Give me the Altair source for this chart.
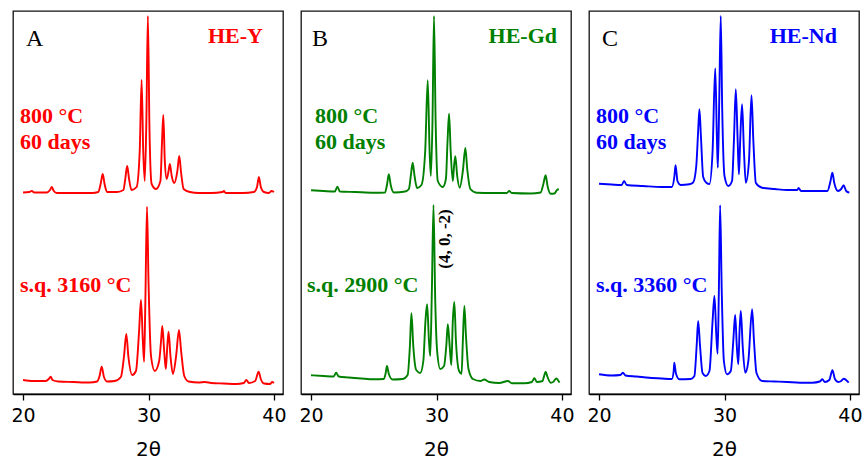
import altair as alt
import pandas as pd

# ---------------- data (2θ, intensity a.u. incl. vertical offset) ----------------
a_top_x = [20.0, 20.5, 20.7, 20.9, 21.9, 22.15, 22.3, 22.45, 22.7, 24.0, 25.5, 26.0, 26.2, 26.35, 26.5, 26.7,
           27.5, 28.0, 28.15, 28.3, 28.45, 28.65, 29.05, 29.3, 29.45, 29.58, 29.7, 29.83, 29.95, 30.08, 30.25,
           30.6, 30.95, 31.08, 31.18, 31.3, 31.45, 31.6, 31.7, 31.85, 32.05, 32.3, 32.45, 32.6, 32.8, 33.3,
           34.0, 35.0, 35.9, 36.0, 36.15, 37.5, 38.4, 38.65, 38.8, 38.95, 39.2, 39.6, 39.8, 40.0]
a_top_y = [201.5, 202, 203, 201.5, 201.5, 204, 207, 203, 201, 201, 201, 202, 211, 220, 210, 202,
           202, 204, 215, 228, 215, 204, 207, 243, 314, 243, 213, 273, 378, 263, 210,
           205, 213, 253, 279, 233, 215, 223, 230, 218, 211, 223, 238, 221, 205, 202,
           201, 201, 202, 203, 201, 201, 202, 207, 217, 207, 202, 201, 203, 202]

a_bot_x = [20.0, 20.8, 21.8, 22.05, 22.2, 22.35, 22.8, 24.0, 25.3, 25.9, 26.1, 26.27, 26.45, 26.7, 27.3,
           27.8, 28.05, 28.23, 28.4, 28.7, 29.0, 29.25, 29.4, 29.55, 29.65, 29.75, 29.88, 30.0, 30.2, 30.5,
           30.85, 31.0, 31.1, 31.25, 31.38, 31.5, 31.6, 31.75, 31.95, 32.2, 32.43, 32.6, 32.85, 33.2, 34.0,
           34.5, 35.0, 36.0, 37.0, 37.6, 37.8, 38.0, 38.5, 38.78, 38.95, 39.2, 39.7, 39.85, 40.0]
a_bot_y = [14, 13, 13, 15, 17.3, 14, 12.5, 12, 11.5, 12.5, 18, 27.3, 17, 12.5, 13,
           17, 38, 60, 37, 19, 23, 63, 94, 53, 32.3, 93, 187.3, 113, 38, 23,
           33, 53, 68, 43, 25, 48, 62.3, 38, 20, 38, 64, 43, 18, 12.5, 11.5,
           12, 11, 10.5, 10, 11, 14, 11, 13, 22.3, 15, 10.5, 10, 12, 11]

b_top_x = [20.0, 21.0, 21.9, 22.1, 22.3, 23.5, 25.0, 25.9, 26.05, 26.2, 26.35, 26.6, 27.5, 27.8, 27.95,
           28.1, 28.25, 28.45, 28.8, 29.1, 29.3, 29.45, 29.55, 29.68, 29.8, 29.93, 30.1, 30.5, 30.75, 30.88,
           31.0, 31.13, 31.3, 31.4, 31.5, 31.65, 31.85, 32.1, 32.3, 32.45, 32.7, 33.2, 34.5, 35.6, 35.8,
           36.0, 37.5, 38.3, 38.5, 38.7, 38.85, 39.1, 39.4, 39.6, 39.75]
b_top_y = [203.7, 203, 202.5, 207.3, 202.5, 202, 201.3, 201.5, 209, 219.7, 209, 201.5, 202.5, 205, 218,
           231.3, 218, 206, 209, 243, 313.7, 243, 218, 273, 378, 273, 213, 207, 215, 253,
           280.3, 243, 213, 228, 237.7, 218, 206.3, 223, 246, 225, 205, 201.3, 201, 201, 203,
           201, 200.5, 201.5, 209, 218.7, 208, 200.3, 200.5, 204, 204.7]

b_bot_x = [20.0, 21.0, 21.8, 22.0, 22.2, 23.0, 24.0, 25.0, 25.8, 25.95, 26.05, 26.2, 26.5, 27.3, 27.7,
           27.88, 28.0, 28.15, 28.35, 28.45, 28.7, 28.95, 29.12, 29.25, 29.4, 29.5, 29.63, 29.76, 29.9, 30.05,
           30.3, 30.6, 30.78, 30.9, 31.05, 31.18, 31.3, 31.42, 31.55, 31.8, 32.0, 32.1, 32.22, 32.35, 32.55,
           32.9, 33.5, 33.8, 34.2, 35.0, 35.7, 36.0, 37.0, 37.6, 37.8, 38.0, 38.45, 38.6, 38.7, 38.85,
           39.1, 39.3, 39.55, 39.8]
b_bot_y = [18.7, 18, 17.5, 21.3, 17.5, 16.5, 15.5, 14.7, 15, 21, 28, 20, 14.5, 15, 19,
           48, 80.7, 48, 25, 23, 21, 33, 73, 89.7, 53, 38, 103, 189, 93, 43,
           25, 28, 48, 69.7, 48, 29, 73, 92, 53, 23, 20.3, 53, 88, 58, 25,
           15, 13, 14.5, 12, 11, 13, 10.7, 10.7, 12, 15.7, 12, 13, 19, 22.3, 17,
           11.3, 12, 15.5, 11.3]

c_top_x = [20.0, 21.0, 21.8, 22.0, 22.2, 23.5, 25.0, 25.8, 26.0, 26.1, 26.25, 26.5, 27.2, 27.5, 27.75,
           27.9, 28.0, 28.12, 28.3, 28.55, 28.8, 29.05, 29.26, 29.4, 29.47, 29.58, 29.7, 29.82, 30.0, 30.3,
           30.6, 30.75, 30.9, 31.05, 31.15, 31.25, 31.4, 31.55, 31.7, 31.95, 32.15, 32.3, 32.5, 33.0, 34.0,
           35.0, 35.8, 35.9, 36.1, 37.5, 38.2, 38.45, 38.6, 38.75, 39.05, 39.3, 39.5, 39.7, 39.95]
c_top_y = [210.3, 209.5, 209, 213, 209, 208, 207, 207, 217, 228.7, 213, 209, 209.7, 211.5, 228,
           263, 284.7, 258, 217, 211.3, 210, 243, 325.7, 253, 226.3, 293, 378, 283, 218, 208,
           213, 253, 304.7, 253, 219.7, 253, 289.7, 243, 211.3, 233, 298.7, 253, 211, 206.3, 205,
           204, 204, 206, 203, 203, 203, 213, 221.3, 211, 203, 205, 208.7, 203, 201.3]

c_bot_x = [20.0, 21.0, 21.7, 21.9, 22.1, 23.0, 24.0, 25.0, 25.8, 25.95, 26.0, 26.12, 26.4, 27.3, 27.6,
           27.78, 27.9, 28.05, 28.25, 28.5, 28.8, 29.05, 29.2, 29.35, 29.45, 29.55, 29.65, 29.78, 29.95, 30.2,
           30.5, 30.7, 30.85, 30.98, 31.1, 31.2, 31.3, 31.45, 31.65, 31.9, 32.2, 32.35, 32.55, 33.0, 34.0,
           35.0, 36.0, 37.0, 37.6, 37.8, 38.0, 38.35, 38.6, 38.8, 39.05, 39.3, 39.5, 39.9]
c_bot_y = [19.7, 18.5, 19, 21.3, 18.5, 17.5, 16.3, 15.5, 15, 23, 31.3, 21, 14.7, 15, 18,
           48, 73, 48, 21, 18, 23, 73, 98, 58, 40.3, 103, 188.7, 103, 33, 19.7,
           23, 53, 79, 48, 29.7, 63, 83, 48, 21.3, 33, 84.7, 53, 21, 13, 12.5,
           12, 11.3, 11.3, 12.5, 14.7, 12, 14, 23.7, 15, 12, 13, 15.3, 11.3]

ticks_x = [20, 30, 40]
samples = ["HE-Y", "HE-Gd", "HE-Nd"]
letters = ["A", "B", "C"]
sq_labels = ["s.q. 3160 °C", "s.q. 2900 °C", "s.q. 3360 °C"]
anneal_labels = ["800 °C", "60 days"]
peak_label = "(4, 0, -2)"
colors = ["#ff0000", "#008000", "#0000ff"]

W, H = 270, 383
SERIF = "Liberation Serif"
SANS = "DejaVu Sans"

xscale = alt.Scale(domain=[19.2, 40.72], nice=False, zero=False)
yscale = alt.Scale(domain=[0, 383], nice=False, zero=False)
xaxis = alt.Axis(values=ticks_x, title="2θ", grid=False, tickSize=6, labelPadding=6,
                 titlePadding=14, labelFlush=False)


def line(xs, ys, color):
    df = pd.DataFrame({"theta": xs, "I": ys})
    return alt.Chart(df).mark_line(color=color, strokeWidth=1.9, interpolate="monotone").encode(
        x=alt.X("theta:Q", scale=xscale, axis=xaxis),
        y=alt.Y("I:Q", scale=yscale, axis=None),
    )


def label(s, x, y, color="black", size=22, weight="bold", align="left", angle=0, baseline="alphabetic"):
    return alt.Chart(alt.Data(values=[{}])).mark_text(
        font=SERIF, fontSize=size, fontWeight=weight, color=color, align=align,
        baseline=baseline, angle=angle,
    ).encode(x=alt.value(x), y=alt.value(y), text=alt.value(s))


def panel(i, top, bot, ann_x, sq_x, letter_x, name_x, extra=None):
    col = colors[i]
    layers = [
        line(top[0], top[1], col),
        line(bot[0], bot[1], col),
        label(letters[i], letter_x, 35, color="black", size=24, weight="normal"),
        label(samples[i], name_x, 32, color=col, align="right"),
        label(anneal_labels[0], ann_x, 112, color=col),
        label(anneal_labels[1], ann_x, 138, color=col),
        label(sq_labels[i], sq_x, 281, color=col),
    ]
    if extra is not None:
        layers.append(extra)
    return alt.layer(*layers).properties(width=W, height=H)


pA = panel(0, (a_top_x, a_top_y), (a_bot_x, a_bot_y), 7, 7, 13, 250)
pB = panel(1, (b_top_x, b_top_y), (b_bot_x, b_bot_y), 14, 6, 11, 256,
           extra=label(peak_label, 144, 228, color="black", size=17, weight="bold",
                       align="center", angle=270, baseline="middle"))
pC = panel(2, (c_top_x, c_top_y), (c_bot_x, c_bot_y), 7, 7, 13, 248)

chart = alt.hconcat(pA, pB, pC, spacing=18, bounds="flush").properties(
    padding={"left": 10, "top": 10, "right": 0, "bottom": 0},
    background="white",
).configure_view(
    stroke="#111", strokeWidth=1.3
).configure_axis(
    labelFont=SANS, labelFontSize=19, labelColor="black",
    titleFont=SANS, titleFontSize=20, titleFontWeight="normal", titleColor="black",
    domainColor="black", tickColor="black", domainWidth=1.3, tickWidth=1.3,
)

chart.save("out.html", embed_options={"renderer": "svg", "actions": False})
